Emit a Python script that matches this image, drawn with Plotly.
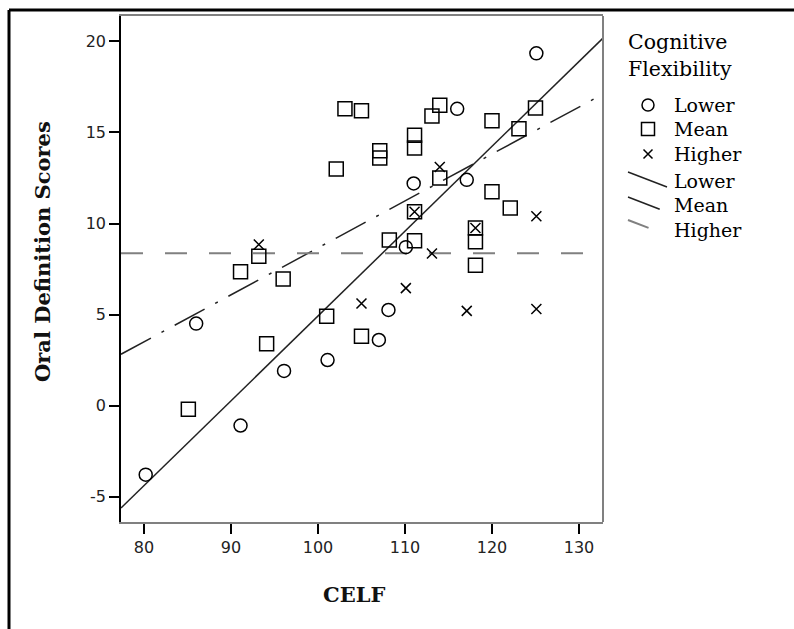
import numpy as np
import plotly.graph_objects as go

# ---------------- data ----------------
lower_x = [80.2, 86.0, 91.1, 96.1, 101.1, 107.0, 108.1, 110.1, 111.0, 116.0, 117.1, 125.1]
lower_y = [-3.8, 4.5, -1.1, 1.9, 2.5, 3.6, 5.25, 8.7, 12.2, 16.3, 12.4, 19.35]

mean_x = [85.1, 91.1, 93.2, 94.1, 96.0, 101.0, 102.1, 103.1, 105.0, 105.0, 107.1, 107.1, 108.2, 111.1,
          111.1, 111.1, 111.1, 113.1, 114.0, 114.0, 118.1, 118.1, 118.1, 120.0, 120.0, 122.1, 123.1, 125.0]
mean_y = [-0.2, 7.35, 8.2, 3.4, 6.95, 4.9, 13.0, 16.3, 16.2, 3.8, 14.0, 13.6, 9.1, 14.85,
          14.15, 10.65, 9.05, 15.9, 16.5, 12.5, 9.75, 9.0, 7.7, 15.65, 11.75, 10.85, 15.2, 16.35]

higher_x = [93.2, 105.0, 110.1, 111.1, 113.1, 114.0, 117.1, 118.1, 125.1, 125.1]
higher_y = [8.85, 5.6, 6.45, 10.65, 8.35, 13.1, 5.2, 9.75, 10.4, 5.3]

group_names = ["Lower", "Mean", "Higher"]
x_ticks = [80, 90, 100, 110, 120, 130]
y_ticks = [-5, 0, 5, 10, 15, 20]
y_tick_labels = ["-5", "0", "5", "10", "15", "20"]
x_title = "CELF"
y_title = "Oral Definition Scores"
legend_title = "Cognitive<br>Flexibility"

x_range = [77.36, 132.76]
y_range = [-6.40, 21.40]

# ---------------- figure geometry (pixels) ----------------
W, H = 794, 629
PL, PR, PT, PB = 121, 603, 16, 522

fig = go.Figure()

symbols = ["circle-open", "square-open", "x-thin-open"]
sizes = [13, 14, 10]
line_styles = [
    dict(color="#222222", width=1.5, dash="solid"),
    dict(color="#222222", width=1.5, dash="34px,12px,3px,12px"),
    dict(color="#808080", width=2, dash="22px,22px"),
]
groups = [(lower_x, lower_y), (mean_x, mean_y), (higher_x, higher_y)]

# fit lines (least squares per group) over the full x range
xs_line = np.array(x_range)
for (gx, gy), name, ls in zip(groups, group_names, line_styles):
    b, a = np.polyfit(gx, gy, 1)
    fig.add_trace(go.Scatter(x=xs_line, y=a + b * xs_line, mode="lines", line=ls,
                             showlegend=False, name=name + " fit", hoverinfo="skip"))

for (gx, gy), name, sym, sz in zip(groups, group_names, symbols, sizes):
    fig.add_trace(go.Scatter(x=gx, y=gy, mode="markers", name=name, showlegend=False,
                             marker=dict(symbol=sym, size=sz, color="black",
                                         line=dict(color="black", width=1.5))))

# ---------------- custom legend on a pixel overlay axis ----------------
leg_marker_y = [105, 129, 154]
for sym, sz, yy in zip(symbols, sizes, leg_marker_y):
    fig.add_trace(go.Scatter(x=[648], y=[yy], xaxis="x2", yaxis="y2", mode="markers",
                             showlegend=False, hoverinfo="skip",
                             marker=dict(symbol=sym, size=sz - 1, color="black",
                                         line=dict(color="black", width=1.5))))
leg_line_y = [172, 197, 220]
for ls, yy in zip(line_styles, leg_line_y):
    fig.add_trace(go.Scatter(x=[628, 667], y=[yy, yy + 15], xaxis="x2", yaxis="y2", mode="lines",
                             line=ls, showlegend=False, hoverinfo="skip"))

serif = "DejaVu Serif"
ann = []
ann.append(dict(x=626, y=55, xref="x2", yref="y2", text=legend_title, showarrow=False,
                xanchor="left", yanchor="middle", align="left",
                font=dict(family=serif, size=20.5, color="black")))
for name, yy in zip(group_names + group_names, [105, 129, 154, 181, 205, 230]):
    ann.append(dict(x=672, y=yy, xref="x2", yref="y2", text=name, showarrow=False,
                    xanchor="left", yanchor="middle",
                    font=dict(family=serif, size=19, color="black")))
# axis titles
ann.append(dict(x=354, y=594, xref="x2", yref="y2", text="<b>" + x_title + "</b>", showarrow=False,
                xanchor="center", yanchor="middle", font=dict(family=serif, size=21, color="#111")))
ann.append(dict(x=42, y=252, xref="x2", yref="y2", text="<b>" + y_title + "</b>", showarrow=False,
                textangle=-90, xanchor="center", yanchor="middle",
                font=dict(family=serif, size=21, color="#111")))

shapes = [
    # outer frame (top and left)
    dict(type="line", xref="x2", yref="y2", x0=9, x1=800, y0=10, y1=10, line=dict(color="black", width=3)),
    dict(type="line", xref="x2", yref="y2", x0=9, x1=9, y0=10, y1=640, line=dict(color="black", width=3)),
    # right border of plot box
    dict(type="line", xref="x2", yref="y2", x0=PR, x1=PR, y0=PT, y1=PB, line=dict(color="#808080", width=2)),
]

tickfont = dict(family="DejaVu Sans", size=16, color="#222")
fig.update_layout(
    width=W, height=H, margin=dict(l=0, r=0, t=0, b=0),
    paper_bgcolor="white", plot_bgcolor="rgba(0,0,0,0)",
    showlegend=False,
    xaxis=dict(domain=[PL / W, PR / W], range=x_range, tickvals=x_ticks, ticks="outside",
               ticklen=10, tickwidth=1.5, tickcolor="black", showgrid=False, zeroline=False,
               showline=True, linecolor="#808080", linewidth=2, mirror=True, tickfont=tickfont),
    yaxis=dict(domain=[(H - PB) / H, (H - PT) / H], range=y_range, tickvals=y_ticks,
               ticktext=y_tick_labels, ticks="outside", ticklen=10, tickwidth=1.5, tickcolor="black",
               showgrid=False, zeroline=False, showline=True, linecolor="black", linewidth=1.5,
               tickfont=tickfont),
    xaxis2=dict(domain=[0, 1], range=[0, W], visible=False, anchor="y2", fixedrange=True),
    yaxis2=dict(domain=[0, 1], range=[H, 0], visible=False, anchor="x2", fixedrange=True),
    annotations=ann, shapes=shapes,
)

fig.write_html("out.html")
